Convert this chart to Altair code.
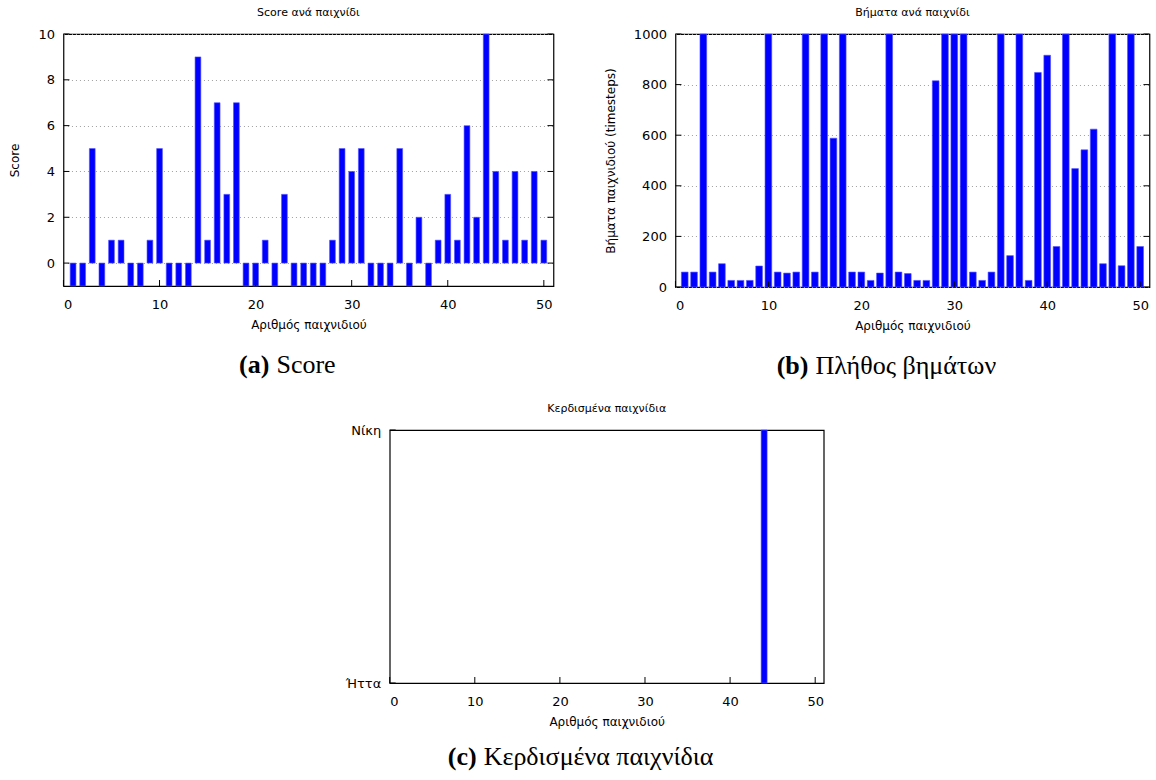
import altair as alt
import pandas as pd

# ---------------- data ----------------
games = list(range(1, 51))
scores = [-1, -1, 5, -1, 1, 1, -1, -1, 1, 5,
          -1, -1, -1, 9, 1, 7, 3, 7, -1, -1,
          1, -1, 3, -1, -1, -1, -1, 1, 5, 4,
          5, -1, -1, -1, 5, -1, 2, -1, 1, 3,
          1, 6, 2, 10, 4, 1, 4, 1, 4, 1]
steps = [59, 59, 1000, 59, 92, 26, 26, 26, 83, 1000,
         59, 55, 59, 1000, 59, 1000, 588, 1000, 59, 59,
         26, 55, 1000, 59, 53, 26, 26, 815, 1000, 1000,
         1000, 59, 26, 59, 1000, 124, 1000, 26, 848, 916,
         160, 1000, 468, 542, 624, 92, 1000, 84, 1000, 160]
wins = [0, 0, 0, 0, 0, 0, 0, 0, 0, 0,
        0, 0, 0, 0, 0, 0, 0, 0, 0, 0,
        0, 0, 0, 0, 0, 0, 0, 0, 0, 0,
        0, 0, 0, 0, 0, 0, 0, 0, 0, 0,
        0, 0, 0, 1, 0, 0, 0, 0, 0, 0]
outcome_labels = ["Ήττα", "Νίκη"]

x_ticks = [0, 10, 20, 30, 40, 50]
score_ticks = [0, 2, 4, 6, 8, 10]
steps_ticks = [0, 200, 400, 600, 800, 1000]
win_ticks = [0, 1]

chart_titles = ["Score ανά παιχνίδι", "Βήματα ανά παιχνίδι", "Κερδισμένα παιχνίδια"]
y_titles = ["Score", "Βήματα παιχνιδιού (timesteps)", ""]
x_title = "Αριθμός παιχνιδιού"
captions = [("(a)", "Score"), ("(b)", "Πλήθος βημάτων"), ("(c)", "Κερδισμένα παιχνίδια")]

df = pd.DataFrame({"game": games, "score": scores, "steps": steps, "win": wins})

BLUE = "#0000ff"
FONT = "DejaVu Sans"
SERIF = "Liberation Serif"
X_DOMAIN = [0, 51]
CAP_SIZE = 26


def panel(field, y_domain, y_ticks, w, h, half, title, y_title, caption,
          cap_split, cap_base, grid=True, label_expr=None, right_ticks=True):
    xs = alt.Scale(domain=X_DOMAIN, nice=False, zero=False)
    ys = alt.Scale(domain=y_domain, nice=False, zero=False)
    x_axis = alt.Axis(values=x_ticks, title=x_title, grid=False, ticks=False,
                      domain=False, format="d", labelPadding=12, titlePadding=8)
    y_axis_kw = dict(values=y_ticks, title=y_title if y_title else None,
                     grid=grid, ticks=False, domain=False, format="d",
                     labelPadding=9, titlePadding=16)
    if label_expr:
        y_axis_kw["labelExpr"] = label_expr
    y_axis = alt.Axis(**y_axis_kw)
    bars = (
        alt.Chart(df)
        .transform_filter(f"datum.{field} != 0")
        .transform_calculate(x0=f"datum.game - {half}", x1=f"datum.game + {half}")
        .mark_rect(color=BLUE, stroke="#5050ff", strokeWidth=0.6)
        .encode(
            x=alt.X("x0:Q", scale=xs, axis=x_axis),
            x2="x1:Q",
            y=alt.Y(f"{field}:Q", scale=ys, axis=y_axis),
            y2=alt.datum(0),
        )
    )
    ytdf = pd.DataFrame({"v": y_ticks})
    xtdf = pd.DataFrame({"v": x_ticks})
    left_t = alt.Chart(ytdf).mark_rule(color="black").encode(
        y=alt.Y("v:Q", scale=ys, axis=y_axis), x=alt.value(0), x2=alt.value(6))
    layers = [bars, left_t]
    if right_ticks:
        right_t = alt.Chart(ytdf).mark_rule(color="black").encode(
            y=alt.Y("v:Q", scale=ys, axis=y_axis), x=alt.value(w - 6), x2=alt.value(w))
        layers.append(right_t)
    bottom_t = alt.Chart(xtdf).mark_rule(color="black").encode(
        x=alt.X("v:Q", scale=xs, axis=x_axis), y=alt.value(h), y2=alt.value(h - 6))
    layers.append(bottom_t)
    capdf = pd.DataFrame({"b": [caption[0]], "t": [caption[1]]})
    cap_b = alt.Chart(capdf).mark_text(
        font=SERIF, fontSize=CAP_SIZE, fontWeight="bold", align="right",
        baseline="alphabetic", color="black").encode(
        text="b:N", x=alt.value(cap_split - 3), y=alt.value(cap_base))
    cap_t = alt.Chart(capdf).mark_text(
        font=SERIF, fontSize=CAP_SIZE, align="left",
        baseline="alphabetic", color="black").encode(
        text="t:N", x=alt.value(cap_split + 4), y=alt.value(cap_base))
    layers += [cap_b, cap_t]
    return alt.layer(*layers).properties(
        width=w, height=h,
        title=alt.TitleParams(title, font=FONT, fontSize=11, fontWeight="normal",
                              color="black", offset=10),
    )


pa = panel("score", [-1, 10], score_ticks, 490, 252, 0.3, chart_titles[0],
           y_titles[0], captions[0], 209, 339)
pb = panel("steps", [0, 1000], steps_ticks, 474, 253, 0.36, chart_titles[1],
           y_titles[1], captions[1], 136, 340)
win_expr = ("datum.value == 1 ? '" + outcome_labels[1] + "' : (datum.value == 0 ? '"
            + outcome_labels[0] + "' : '')")
pc = panel("win", [0, 1], win_ticks, 434, 253, 0.35, chart_titles[2],
           y_titles[2], captions[2], 90, 335, grid=False, label_expr=win_expr,
           right_ticks=False)

top = alt.hconcat(pa, pb, spacing=48)
chart = (
    alt.vconcat(top, pc, spacing=22, center=True)
    .properties(padding={"left": 8, "top": 6, "right": 5, "bottom": 5},
                background="white")
    .configure_view(stroke="black", strokeWidth=1.2)
    .configure_axis(
        labelFont=FONT, labelFontSize=13, labelColor="black",
        titleFont=FONT, titleFontSize=12, titleFontWeight="normal", titleColor="black",
        ticks=False, domain=False,
        gridColor="#a0a0a0", gridDash=[1, 3], gridWidth=1,
    )
)

chart.save("out.html", embed_options={"renderer": "svg", "actions": False})
